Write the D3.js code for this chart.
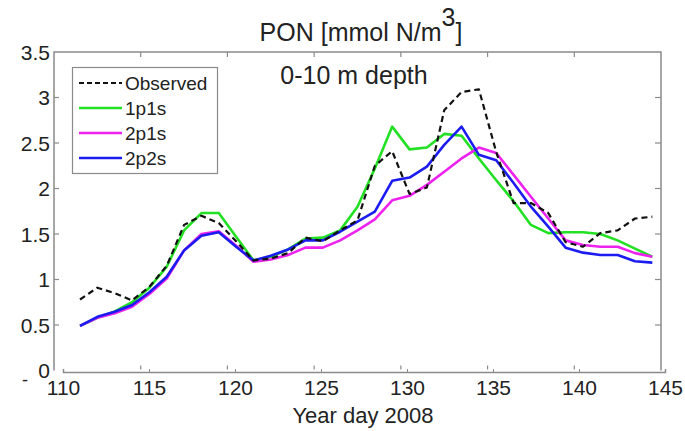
<!DOCTYPE html>
<html>
<head>
<meta charset="utf-8">
<script src="https://cdn.jsdelivr.net/npm/d3@7"></script>
<style>
  html, body { margin: 0; padding: 0; background: #fff; }
  svg { display: block; font-family: "Liberation Sans", Arial, sans-serif; }
</style>
</head>
<body>
<div id="chart"></div>
<script>
// year day (daily means, centred on the half day)
const days = [111.5, 112.5, 113.5, 114.5, 115.5, 116.5, 117.5, 118.5, 119.5, 120.5,
  121.5, 122.5, 123.5, 124.5, 125.5, 126.5, 127.5, 128.5, 129.5, 130.5,
  131.5, 132.5, 133.5, 134.5, 135.5, 136.5, 137.5, 138.5, 139.5, 140.5,
  141.5, 142.5, 143.5, 144.5];

const observed = [0.78, 0.91, 0.85, 0.77, 0.92, 1.15, 1.60, 1.70, 1.62, 1.42,
  1.21, 1.23, 1.29, 1.46, 1.42, 1.54, 1.65, 2.25, 2.41, 1.94,
  2.01, 2.86, 3.06, 3.09, 2.40, 1.84, 1.84, 1.73, 1.41, 1.36,
  1.51, 1.54, 1.67, 1.69];

const run1p1s = [0.49, 0.58, 0.65, 0.75, 0.91, 1.14, 1.54, 1.73, 1.73, 1.47,
  1.21, 1.25, 1.33, 1.45, 1.46, 1.54, 1.80, 2.22, 2.68, 2.43,
  2.45, 2.60, 2.58, 2.33, 2.09, 1.86, 1.60, 1.51, 1.52, 1.52,
  1.50, 1.43, 1.34, 1.25];

const run2p1s = [0.49, 0.58, 0.63, 0.70, 0.84, 1.01, 1.32, 1.50, 1.53, 1.37,
  1.195, 1.22, 1.27, 1.35, 1.35, 1.43, 1.54, 1.66, 1.87, 1.92,
  2.04, 2.185, 2.33, 2.45, 2.39, 2.15, 1.91, 1.67, 1.43, 1.38,
  1.36, 1.36, 1.29, 1.25];

const run2p2s = [0.49, 0.59, 0.645, 0.72, 0.86, 1.03, 1.32, 1.48, 1.52, 1.36,
  1.21, 1.26, 1.33, 1.43, 1.43, 1.525, 1.635, 1.745, 2.085, 2.12,
  2.24, 2.48, 2.68, 2.37, 2.31, 2.06, 1.80, 1.58, 1.35, 1.295,
  1.27, 1.27, 1.20, 1.185];

const xTicks = [110, 115, 120, 125, 130, 135, 140, 145];
const yTicks = [0, 0.5, 1, 1.5, 2, 2.5, 3, 3.5];

const seriesNames = ["Observed", "1p1s", "2p1s", "2p2s"];
const seriesValues = [observed, run1p1s, run2p1s, run2p2s];
const seriesColors = ["#111", "#22e022", "#ee22ee", "#1c1cf0"];

const width = 685;
const height = 431;
const axisColor = "#8a8a8a";
const textColor = "#222";

// plot box
const box = { left: 54, right: 661, top: 52, bottom: 370.5 };

const x = d3.scaleLinear().domain([110, 145]).range([box.left, box.right]);
const y = d3.scaleLinear().domain([0, 3.5]).range([box.bottom, box.top]);
// the separate bottom axis sits a little to the right of the box
const xAxisScale = d3.scaleLinear().domain([110, 145]).range([63, 665]);

const svg = d3.select("#chart")
  .append("svg")
  .attr("width", width)
  .attr("height", height);

// box: left, top, right
svg.append("path")
  .attr("d", `M${box.left},${box.bottom} V${box.top} H${box.right} V${box.bottom}`)
  .attr("fill", "none")
  .attr("stroke", axisColor)
  .attr("stroke-width", 1.5);

// inward ticks on the box
const boxTicks = svg.append("g").attr("stroke", axisColor).attr("stroke-width", 1.2);
yTicks.slice(1, -1).forEach(v => {
  boxTicks.append("line").attr("x1", box.left).attr("x2", box.left + 5).attr("y1", y(v)).attr("y2", y(v));
  boxTicks.append("line").attr("x1", box.right).attr("x2", box.right - 6).attr("y1", y(v)).attr("y2", y(v));
});
xTicks.slice(1, -1).forEach(v => {
  boxTicks.append("line").attr("x1", x(v)).attr("x2", x(v)).attr("y1", box.top).attr("y2", box.top + 5);
  boxTicks.append("line").attr("x1", x(v)).attr("x2", x(v)).attr("y1", box.bottom - 1).attr("y2", box.bottom - 5);
});

// y tick labels
svg.append("g")
  .selectAll("text")
  .data(yTicks)
  .join("text")
  .attr("x", 50)
  .attr("y", d => y(d))
  .attr("dy", "0.36em")
  .attr("text-anchor", "end")
  .attr("fill", textColor)
  .style("font-size", "21px")
  .text(d => d);

svg.append("text")
  .attr("x", 25)
  .attr("y", 386)
  .attr("text-anchor", "middle")
  .attr("fill", textColor)
  .style("font-size", "18px")
  .text("-");

// bottom axis
const xAxis = d3.axisBottom(xAxisScale)
  .tickValues(xTicks)
  .tickSize(-3)
  .tickPadding(8)
  .tickFormat(d3.format("d"));

const gx = svg.append("g")
  .attr("transform", "translate(0,372)")
  .call(xAxis);
gx.select(".domain").attr("stroke", axisColor).attr("stroke-width", 1.5);
gx.selectAll(".tick line").attr("stroke", axisColor);
gx.selectAll(".tick text")
  .attr("fill", textColor)
  .style("font-size", "21px")
  .style("font-family", "\"Liberation Sans\", Arial, sans-serif");

// lines
const line = d3.line()
  .x((d, i) => x(days[i]))
  .y(d => y(d));

seriesValues.forEach((vals, k) => {
  svg.append("path")
    .datum(vals)
    .attr("fill", "none")
    .attr("stroke", seriesColors[k])
    .attr("stroke-width", k === 0 ? 2.2 : 2.6)
    .attr("stroke-linejoin", "round")
    .attr("stroke-dasharray", k === 0 ? "6,4" : null)
    .attr("d", line);
});

// draw observed on top
svg.selectAll("path")
  .filter(function () { return d3.select(this).attr("stroke-dasharray") === "6,4"; })
  .raise();

// legend
const legend = svg.append("g");
legend.append("rect")
  .attr("x", 72.5)
  .attr("y", 67.5)
  .attr("width", 145)
  .attr("height", 106)
  .attr("fill", "#fff")
  .attr("stroke", axisColor)
  .attr("stroke-width", 1.2);

seriesNames.forEach((name, k) => {
  const ly = 83 + k * 25;
  legend.append("line")
    .attr("x1", 79)
    .attr("x2", 122)
    .attr("y1", ly)
    .attr("y2", ly)
    .attr("stroke", seriesColors[k])
    .attr("stroke-width", k === 0 ? 2.2 : 2.6)
    .attr("stroke-dasharray", k === 0 ? "5,3" : null);
  legend.append("text")
    .attr("x", 125)
    .attr("y", ly)
    .attr("dy", "0.36em")
    .attr("fill", textColor)
    .style("font-size", "19px")
    .text(name);
});

// title
const title = svg.append("text")
  .attr("x", 361)
  .attr("y", 41)
  .attr("text-anchor", "middle")
  .attr("fill", textColor)
  .style("font-size", "25px");
title.append("tspan").text("PON [mmol N/m");
title.append("tspan").attr("dy", -15).text("3");
title.append("tspan").attr("dy", 15).text("]");

svg.append("text")
  .attr("x", 354)
  .attr("y", 84)
  .attr("text-anchor", "middle")
  .attr("fill", textColor)
  .style("font-size", "25px")
  .text("0-10 m depth");

svg.append("text")
  .attr("x", 363)
  .attr("y", 423)
  .attr("text-anchor", "middle")
  .attr("fill", textColor)
  .style("font-size", "22px")
  .text("Year day 2008");
</script>
</body>
</html>
